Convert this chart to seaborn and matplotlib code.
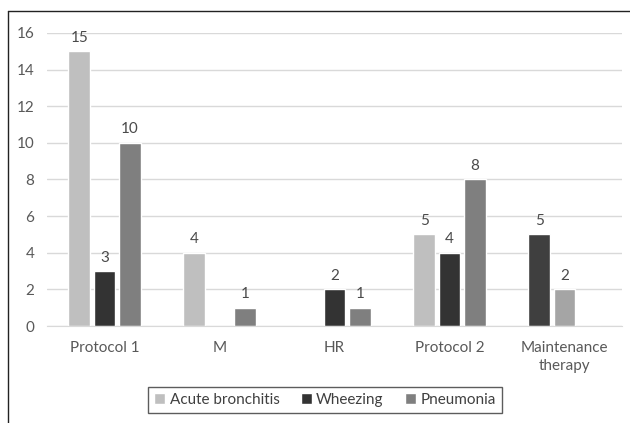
import numpy as np
import pandas as pd
import matplotlib.pyplot as plt
import seaborn as sns

categories = ["Protocol 1", "M", "HR", "Protocol 2", "Maintenance\ntherapy"]
series = ["Acute bronchitis", "Wheezing", "Pneumonia"]
acute_bronchitis = [15, 4, 0, 5, 5]
wheezing = [3, 0, 2, 4, 2]
pneumonia = [10, 1, 1, 8, 0]

colors = ["#bfbfbf", "#333333", "#7f7f7f"]

df = pd.DataFrame({
    "category": categories * 3,
    "series": [s for s in series for _ in categories],
    "value": acute_bronchitis + wheezing + pneumonia,
})

sns.set_style("white")
plt.rcParams["font.family"] = ["Lato", "DejaVu Sans"]

fig = plt.figure(figsize=(6.3, 4.23), dpi=100)
ax = fig.add_axes([47 / 630, 1 - 326 / 423, 575 / 630, 293 / 423])

sns.barplot(data=df, x="category", y="value", hue="series",
            hue_order=series, order=categories, palette=colors,
            width=0.66, gap=0.15, saturation=1, ax=ax, legend=True)

# bars of the last group are coloured individually in the original
for bar in ax.patches:
    if bar.get_height() == 0:
        continue
    x = bar.get_x() + bar.get_width() / 2
    if x > 3.5:
        if x < 3.9:
            bar.set_facecolor("#3f3f3f")
        else:
            bar.set_facecolor("#a5a5a5")
    ax.text(x, bar.get_height() + 0.35, f"{int(bar.get_height())}",
            ha="center", va="bottom", fontsize=11, color="#4a4a4a")

ax.set_ylim(0, 16)
ax.set_xlim(-0.5, 4.5)
ax.set_yticks(range(0, 17, 2))
ax.yaxis.grid(True, color="#d9d9d9", linewidth=1)
ax.set_axisbelow(True)
for s in ["top", "right", "left"]:
    ax.spines[s].set_visible(False)
ax.spines["bottom"].set_color("#d9d9d9")
ax.tick_params(axis="both", length=0, labelsize=11, colors="#595959")
ax.tick_params(axis="x", pad=11)
ax.tick_params(axis="y", pad=9)
for lbl in ax.get_xticklabels():
    lbl.set_linespacing(1.35)
ax.set_xlabel("")
ax.set_ylabel("")

leg = ax.legend(loc="center", bbox_to_anchor=(325 / 630, 1 - 400 / 423),
                bbox_transform=fig.transFigure, ncol=3, frameon=True,
                fontsize=11, handlelength=0.7, handleheight=0.7,
                handletextpad=0.3, columnspacing=1.4, fancybox=False,
                borderpad=0.4)
leg.get_frame().set_edgecolor("#333333")
leg.get_frame().set_linewidth(1)
for t in leg.get_texts():
    t.set_color("#404040")

# outer frame (top and left edges visible)
fig.add_artist(plt.Line2D([8 / 630, 1], [1 - 11 / 423, 1 - 11 / 423],
                          transform=fig.transFigure, color="#222222", lw=1))
fig.add_artist(plt.Line2D([8 / 630, 8 / 630], [0, 1 - 11 / 423],
                          transform=fig.transFigure, color="#222222", lw=1))

fig.savefig("out.png", dpi=100)
